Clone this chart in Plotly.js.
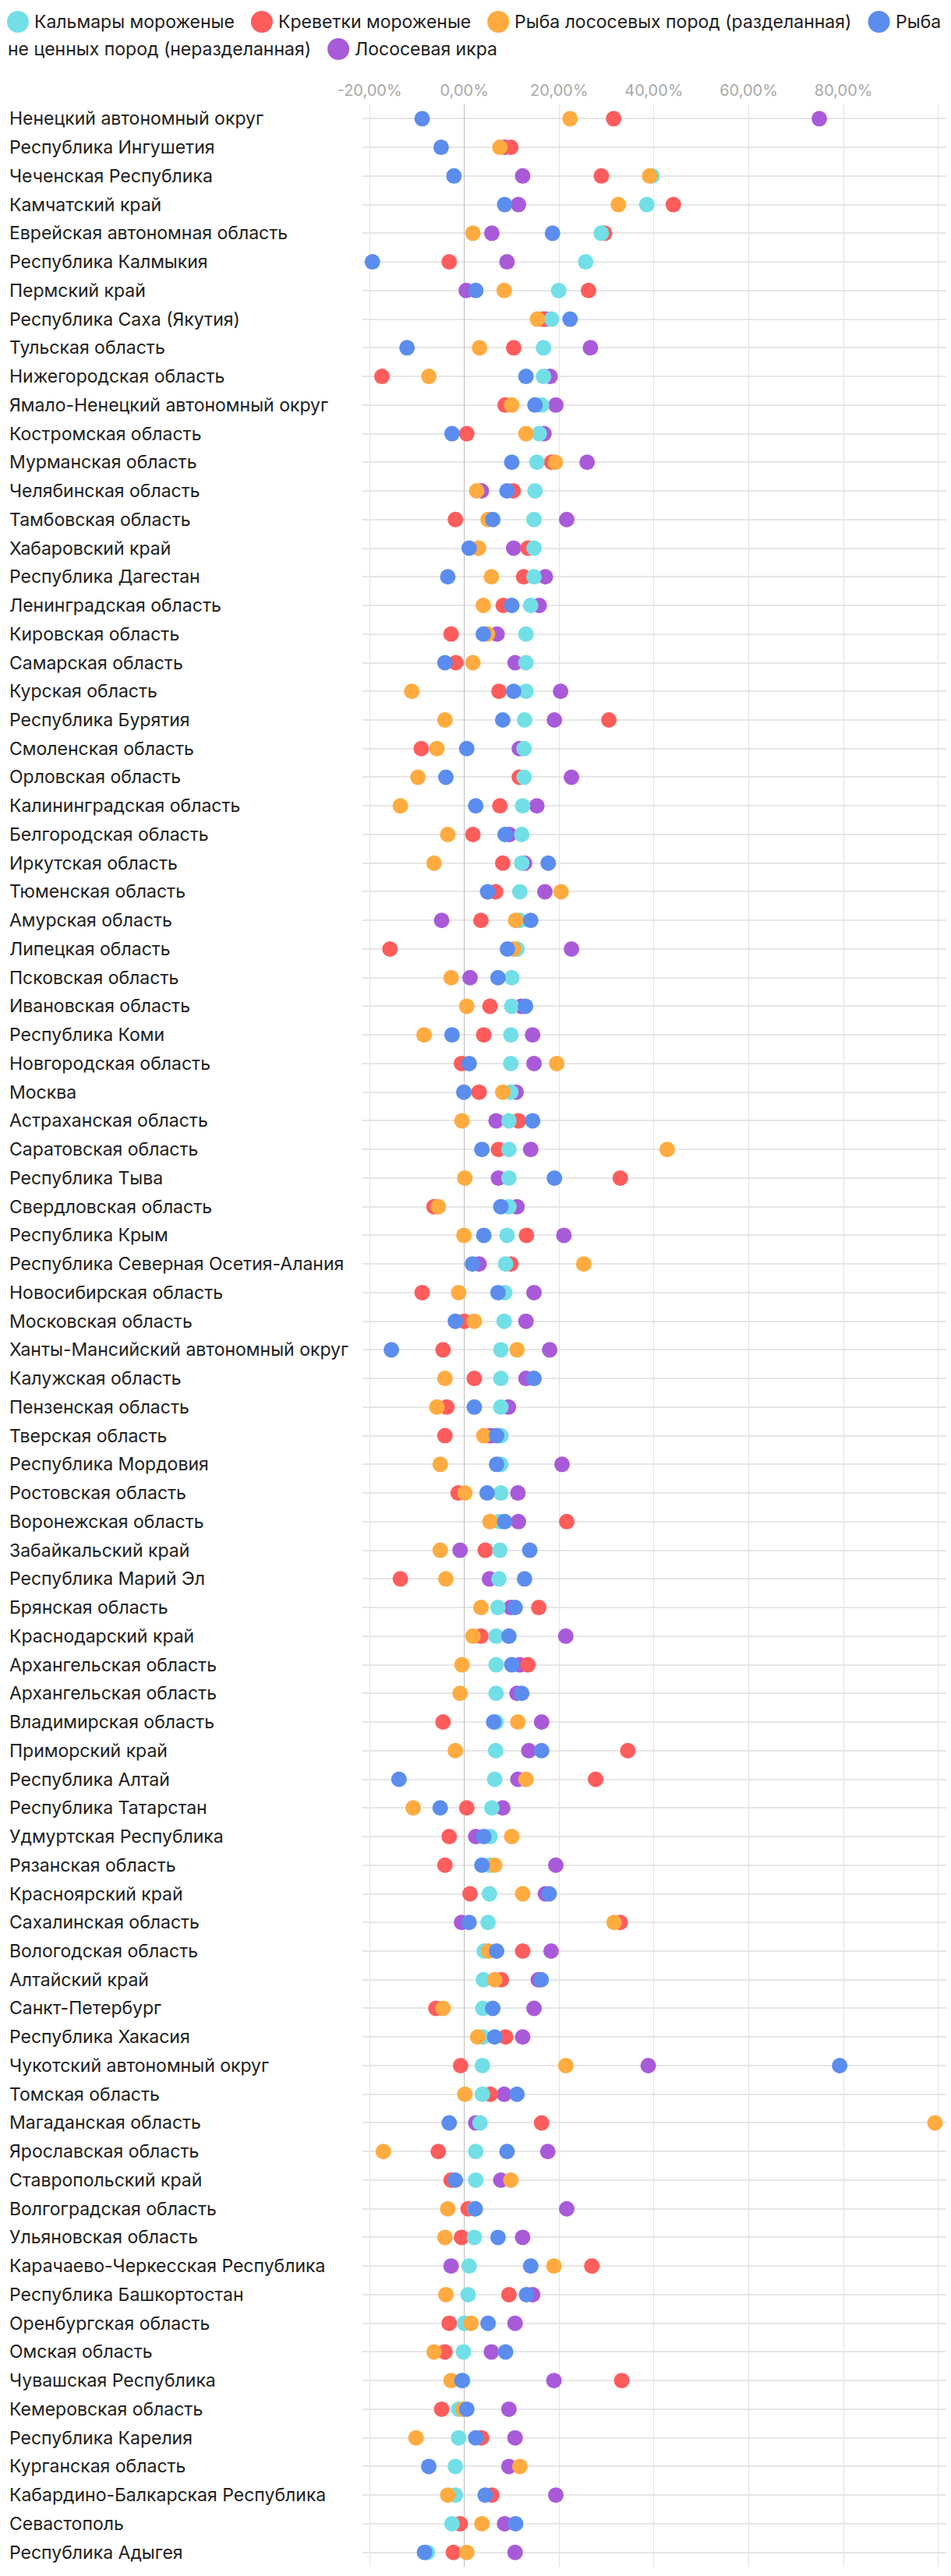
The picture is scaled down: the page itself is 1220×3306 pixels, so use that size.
<!DOCTYPE html>
<html>
<head>
<meta charset="utf-8">
<script src="https://cdn.plot.ly/plotly-3.0.1.min.js"></script>
<style>
html,body{margin:0;padding:0;background:#fff;}
#chart{width:1220px;height:3306px;}
</style>
</head>
<body>
<div id="chart"></div>
<script>
const categories = [
"Ненецкий автономный округ","Республика Ингушетия","Чеченская Республика","Камчатский край","Еврейская автономная область",
"Республика Калмыкия","Пермский край","Республика Саха (Якутия)","Тульская область","Нижегородская область",
"Ямало-Ненецкий автономный округ","Костромская область","Мурманская область","Челябинская область","Тамбовская область",
"Хабаровский край","Республика Дагестан","Ленинградская область","Кировская область","Самарская область",
"Курская область","Республика Бурятия","Смоленская область","Орловская область","Калининградская область",
"Белгородская область","Иркутская область","Тюменская область","Амурская область","Липецкая область",
"Псковская область","Ивановская область","Республика Коми","Новгородская область","Москва",
"Астраханская область","Саратовская область","Республика Тыва","Свердловская область","Республика Крым",
"Республика Северная Осетия-Алания","Новосибирская область","Московская область","Ханты-Мансийский автономный округ","Калужская область",
"Пензенская область","Тверская область","Республика Мордовия","Ростовская область","Воронежская область",
"Забайкальский край","Республика Марий Эл","Брянская область","Краснодарский край","Архангельская область",
"Архангельская область","Владимирская область","Приморский край","Республика Алтай","Республика Татарстан",
"Удмуртская Республика","Рязанская область","Красноярский край","Сахалинская область","Вологодская область",
"Алтайский край","Санкт-Петербург","Республика Хакасия","Чукотский автономный округ","Томская область",
"Магаданская область","Ярославская область","Ставропольский край","Волгоградская область","Ульяновская область",
"Карачаево-Черкесская Республика","Республика Башкортостан","Оренбургская область","Омская область","Чувашская Республика",
"Кемеровская область","Республика Карелия","Курганская область","Кабардино-Балкарская Республика","Севастополь",
"Республика Адыгея"
];

const seriesNames = [
"Кальмары мороженые",
"Креветки мороженые",
"Рыба лососевых пород (разделанная)",
"Рыба не ценных пород (неразделанная)",
"Лососевая икра"
];

// values in %
const squid = [
null,null,39.6,38.5,28.9, 25.6,19.9,18.4,16.7,16.7,
16.3,15.8,15.3,14.9,14.7, 14.7,14.7,14.0,13.0,13.0,
13.0,12.7,12.6,12.6,12.3, 12.1,12.1,11.7,11.7,11.1,
10.0,10.0,9.8,9.8,9.8, 9.4,9.4,9.4,9.4,9.0,
8.7,8.5,8.4,7.7,7.7, 7.7,7.7,7.7,7.7,7.5,
7.5,7.3,7.1,6.7,6.7, 6.7,6.7,6.6,6.4,5.8,
5.4,5.4,5.3,5.0,4.2, 4.0,3.9,3.9,3.8,3.8,
3.3,2.4,2.4,2.2,2.1, 1.0,0.8,0.0,-0.2,-0.3,
-1.2,-1.2,-1.9,-1.9,-2.6, -7.8
];

const shrimp = [
31.5,9.8,28.9,44.1,29.6, -3.2,26.2,16.5,10.4,-17.4,
8.6,0.5,18.4,10.3,-1.9, 13.4,12.5,8.2,-2.8,-1.8,
7.3,30.5,-9.1,11.6,7.5, 1.8,8.1,6.6,3.5,-15.7,
null,5.4,4.1,-0.6,3.1, 11.4,7.2,32.9,-6.4,13.1,
9.8,-8.9,0.0,-4.5,2.1, -3.7,-4.1,null,-1.3,21.6,
4.4,-13.5,15.7,3.5,13.4, null,-4.5,34.5,27.7,0.5,
-3.2,-4.1,1.2,32.9,12.3, 7.8,-6.0,8.7,-0.8,5.5,
16.3,-5.5,-2.8,0.8,-0.6, 26.9,9.4,-3.2,-4.1,33.2,
-4.8,3.6,null,5.8,-0.9, -2.3
];

const salmonFish = [
22.3,7.5,39.1,32.5,1.8, null,8.4,15.4,3.2,-7.5,
10.0,13.0,19.2,2.6,5.0, 3.0,5.7,4.0,4.9,1.8,
-11.1,-4.1,-5.8,-9.8,-13.5, -3.5,-6.4,20.4,10.8,10.4,
-2.8,0.5,-8.5,19.5,8.1, -0.5,42.8,0.1,-5.5,-0.1,
25.2,-1.2,2.1,11.1,-4.1, -5.8,4.1,-5.1,0.1,5.4,
-5.1,-3.9,3.5,1.8,-0.5, -0.9,11.3,-1.9,13.0,-10.8,
10.0,6.4,12.3,31.6,5.1, 6.4,-4.5,2.8,21.4,0.1,
99.3,-17.1,9.8,-3.5,-4.1, 18.9,-3.9,1.4,-6.4,-2.8,
-0.3,-10.2,11.7,-3.5,3.7, 0.5
];

const cheapFish = [
-8.9,-4.9,-2.2,8.5,18.6, -19.4,2.4,22.3,-12.1,13.0,
14.9,-2.6,10.0,9.0,6.0, 1.0,-3.5,10.0,4.0,-4.1,
10.4,8.1,0.5,-3.9,2.4, 8.6,17.7,4.9,14.0,9.1,
7.1,12.9,-2.6,1.0,-0.1, 14.4,3.7,19.0,7.7,4.1,
1.7,7.1,-1.9,-15.4,14.7, 2.1,6.8,6.8,4.8,8.5,
13.8,12.7,10.7,9.4,10.0, 12.1,6.2,16.3,-13.8,-5.1,
4.1,3.7,17.9,1.0,6.8, 16.2,6.0,6.4,79.2,11.1,
-3.2,9.0,-1.9,2.3,7.1, 14.0,13.1,5.0,8.7,-0.5,
0.5,2.4,-7.5,4.4,10.8, -8.4
];

const caviar = [
74.9,8.5,12.3,11.4,5.8, 9.0,0.4,17.1,26.6,18.1,
19.3,16.8,25.9,3.6,21.6, 10.4,17.1,15.8,6.9,10.7,
20.3,19.0,11.6,22.6,15.3, 9.5,12.7,17.0,-4.8,22.6,
1.2,12.0,14.4,14.7,10.9, 6.7,14.0,7.2,11.1,21.0,
3.1,14.7,13.0,18.0,13.0, 9.3,5.5,20.6,11.3,11.4,
-0.9,5.3,9.8,21.4,11.7, 11.1,16.3,13.6,11.3,8.1,
2.4,19.3,17.1,-0.6,18.3, 15.6,14.7,12.3,38.8,8.4,
2.4,17.6,7.7,21.6,12.3, -2.8,14.4,10.7,5.7,18.9,
9.4,10.7,9.4,19.3,8.5, 10.7
];

const tickValues = [-20, 0, 20, 40, 60, 80, 100];
const tickLabels = ["-20,00%", "0,00%", "20,00%", "40,00%", "60,00%", "80,00%", ""];

const colors = ["#72dfe6", "#ff5c5c", "#ffab40", "#5b8def", "#a95ad9"];
const seriesValues = [squid, shrimp, salmonFish, cheapFish, caviar];

// layout geometry
const W = 1220, H = 3306;
const M = {l: 465, r: 6, t: 134, b: 12};
const PW = W - M.l - M.r, PH = H - M.t - M.b;
const FONT = "Inter, 'DejaVu Sans', sans-serif";
const TXT = 23;
const pxX = px => (px - M.l) / PW;
const pxY = py => (M.t + PH - py) / PH;

const idx = categories.map((c, i) => i);

// draw order (bottom -> top)
const drawOrder = [4, 1, 0, 2, 3];
const traces = drawOrder.map(s => ({
  type: "scatter",
  mode: "markers",
  name: seriesNames[s],
  x: seriesValues[s],
  y: idx,
  marker: {color: colors[s], size: 20, line: {width: 0}},
  showlegend: false,
  hovertemplate: "%{text}: %{x:.1f}%<extra>" + seriesNames[s] + "</extra>",
  text: categories
}));

const annotations = categories.map((c, i) => ({
  xref: "paper", yref: "y",
  x: pxX(10), y: i,
  xanchor: "left", yanchor: "middle",
  text: c, showarrow: false,
  font: {family: FONT, size: TXT, color: "#1d1d1d"}
}));

// custom flowing legend
const shapes = [];
const canvas = document.createElement("canvas");
const ctx = canvas.getContext("2d");
ctx.font = TXT + "px Inter";
const tw = s => ctx.measureText(s).width;
const R = 14, gapCT = 6, gapItem = 22, startX = 9, maxX = 1212;
let lineY = 28, lineH = 35, cx = startX;
seriesNames.forEach((name, s) => {
  const words = name.split(" ");
  if (cx + 2 * R + gapCT + tw(words[0]) > maxX) { cx = startX; lineY += lineH; }
  shapes.push({
    type: "circle", xref: "paper", yref: "paper",
    xsizemode: "pixel", ysizemode: "pixel",
    xanchor: pxX(cx + R), yanchor: pxY(lineY),
    x0: -R, x1: R, y0: -R, y1: R,
    fillcolor: colors[s], line: {width: 0}
  });
  cx += 2 * R + gapCT;
  let seg = "", segX = cx;
  words.forEach(w => {
    const trial = seg ? seg + " " + w : w;
    if (segX + tw(trial) > maxX && seg) {
      annotations.push({xref: "paper", yref: "paper", x: pxX(segX - 1), y: pxY(lineY),
        xanchor: "left", yanchor: "middle", text: seg, showarrow: false,
        font: {family: FONT, size: TXT, color: "#1d1d1d"}});
      lineY += lineH; segX = startX; seg = w;
    } else seg = trial;
  });
  annotations.push({xref: "paper", yref: "paper", x: pxX(segX - 1), y: pxY(lineY),
    xanchor: "left", yanchor: "middle", text: seg, showarrow: false,
    font: {family: FONT, size: TXT, color: "#1d1d1d"}});
  cx = segX + tw(seg) + gapItem;
});

const layout = {
  width: W, height: H,
  margin: M,
  paper_bgcolor: "#fff", plot_bgcolor: "#fff",
  font: {family: FONT, size: 20, color: "#1d1d1d"},
  xaxis: {
    side: "top", range: [-21.5, 101.7], fixedrange: true,
    tickvals: tickValues, ticktext: tickLabels,
    tickfont: {family: FONT, size: 20, color: "#a8a8a8"},
    ticks: "", ticklabelstandoff: 6,
    showgrid: true, gridcolor: "#e3e3e3", gridwidth: 1,
    zeroline: true, zerolinecolor: "#bdbdbd", zerolinewidth: 1,
    showline: false
  },
  yaxis: {
    range: [categories.length - 0.5, -0.5], fixedrange: true,
    tickvals: idx, showticklabels: false, ticks: "",
    showgrid: true, gridcolor: "#e6e6e6", gridwidth: 2,
    zeroline: false, showline: false
  },
  shapes: shapes,
  annotations: annotations,
  hovermode: "closest"
};

Plotly.newPlot("chart", traces, layout, {displayModeBar: false, staticPlot: false});
</script>
</body>
</html>
